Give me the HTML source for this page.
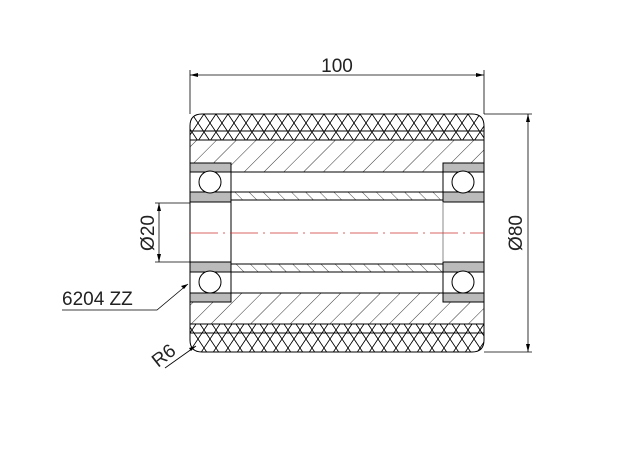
<!DOCTYPE html>
<html><head><style>body{margin:0;background:#fff}svg{display:block}</style></head><body>
<svg width="621" height="452" viewBox="0 0 621 452" xmlns="http://www.w3.org/2000/svg" font-family="Liberation Sans, sans-serif">
<defs>
<pattern id="h1" width="14" height="14" patternUnits="userSpaceOnUse" patternTransform="rotate(45)">
<line x1="0" y1="0" x2="0" y2="14" stroke="#000" stroke-width="0.8"/></pattern>
<pattern id="h2" width="10" height="10" patternUnits="userSpaceOnUse" patternTransform="rotate(-45)">
<line x1="0" y1="0" x2="0" y2="10" stroke="#000" stroke-width="0.7"/></pattern>
<pattern id="kn" width="12" height="18" patternUnits="userSpaceOnUse" x="192" y="114">
<path d="M0 0 L12 18 M12 0 L0 18" stroke="#000" stroke-width="0.7" fill="none"/>
<path d="M0 0 L6 9 L12 0 M0 18 L6 9 L12 18" stroke="#000" stroke-width="0.7" fill="none"/></pattern>
<clipPath id="body"><path d="M202 114 H472 Q484 114 484 126 V340 Q484 352 472 352 H202 Q190 352 190 340 V126 Q190 114 202 114 Z"/></clipPath>
</defs>
<g clip-path="url(#body)">
<rect x="190" y="114" width="294" height="26" fill="url(#kn)"/>
<rect x="190" y="324" width="294" height="28" fill="url(#kn)"/>
<rect x="190" y="140" width="294" height="23" fill="url(#h1)"/>
<rect x="231" y="163" width="212" height="9" fill="url(#h1)"/>
<rect x="190" y="302" width="294" height="22" fill="url(#h1)"/>
<rect x="231" y="293" width="212" height="9" fill="url(#h1)"/>
<rect x="231" y="192" width="212" height="8" fill="url(#h2)"/>
<rect x="231" y="264" width="212" height="8" fill="url(#h2)"/>
</g>
<g stroke="#000" stroke-width="1" fill="none">
<path d="M202 114 H472 Q484 114 484 126 V340 Q484 352 472 352 H202 Q190 352 190 340 V126 Q190 114 202 114 Z"/>
<line x1="190" y1="131" x2="484" y2="131"/><line x1="190" y1="140" x2="484" y2="140"/>
<line x1="190" y1="324" x2="484" y2="324"/><line x1="190" y1="333" x2="484" y2="333"/>
<line x1="231" y1="172" x2="443" y2="172"/><line x1="231" y1="192" x2="443" y2="192"/><line x1="231" y1="200" x2="443" y2="200"/>
<line x1="231" y1="264" x2="443" y2="264"/><line x1="231" y1="272" x2="443" y2="272"/><line x1="231" y1="293" x2="443" y2="293"/>
</g>
<g stroke="#000" stroke-width="1">
<rect x="190" y="163" width="41" height="9" fill="#bbb"/><rect x="190" y="192" width="41" height="10" fill="#bbb"/>
<rect x="443" y="163" width="41" height="9" fill="#bbb"/><rect x="443" y="192" width="41" height="10" fill="#bbb"/>
<rect x="190" y="262" width="41" height="10" fill="#bbb"/><rect x="190" y="293" width="41" height="9" fill="#bbb"/>
<rect x="443" y="262" width="41" height="10" fill="#bbb"/><rect x="443" y="293" width="41" height="9" fill="#bbb"/>
<rect x="190" y="172" width="41" height="20" fill="#fff"/><rect x="443" y="172" width="41" height="20" fill="#fff"/>
<rect x="190" y="272" width="41" height="21" fill="#fff"/><rect x="443" y="272" width="41" height="21" fill="#fff"/>
<circle cx="210" cy="182" r="11" fill="#fff"/><circle cx="463" cy="182" r="11" fill="#fff"/>
<circle cx="210" cy="282" r="11" fill="#fff"/><circle cx="463" cy="282" r="11" fill="#fff"/>
<line x1="231" y1="202" x2="231" y2="262"/><line x1="443" y1="202" x2="443" y2="262" stroke="#888"/>
</g>
<line x1="190" y1="233" x2="484" y2="233" stroke="#c33" stroke-width="0.8" stroke-dasharray="28,5,2,5"/>
<g stroke="#000" stroke-width="0.8" fill="none">
<line x1="190" y1="70" x2="190" y2="114"/><line x1="484" y1="70" x2="484" y2="114"/>
<line x1="190" y1="75" x2="484" y2="75"/>
<line x1="484" y1="114" x2="532" y2="114"/><line x1="484" y1="352" x2="532" y2="352"/>
<line x1="528" y1="114" x2="528" y2="352"/>
<line x1="155" y1="203" x2="190" y2="203"/><line x1="155" y1="262" x2="190" y2="262"/>
<line x1="159" y1="203" x2="159" y2="262"/>
<polyline points="62,310 157,310 188,284"/>
<line x1="165" y1="368" x2="196" y2="346"/>
</g>
<g fill="#000">
<path d="M190 75 l8 -2 v4z M484 75 l-8 -2 v4z"/>
<path d="M528 114 l-2 8 h4z M528 352 l-2 -8 h4z"/>
<path d="M159 203 l-2 8 h4z M159 262 l-2 -8 h4z"/>
<path d="M188 284 l-7 2 l3 3z"/><path d="M196 346 l-7 2 l2 3z"/>
</g>
<g font-size="19" fill="#222">
<text x="337" y="72" text-anchor="middle">100</text>
<text transform="translate(522,233) rotate(-90)" text-anchor="middle">Ø80</text>
<text transform="translate(154,233) rotate(-90)" text-anchor="middle">Ø20</text>
<text x="62" y="305">6204 ZZ</text>
<text transform="translate(158,368) rotate(-38)">R6</text>
</g>
</svg>
</body></html>
